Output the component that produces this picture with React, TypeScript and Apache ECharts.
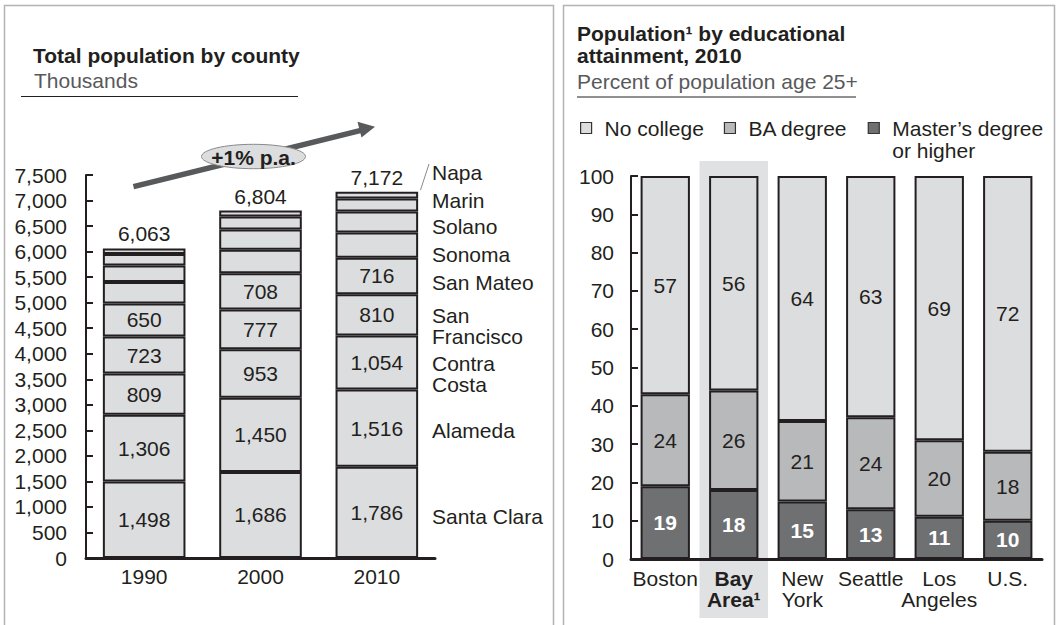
import React, { useEffect, useRef } from 'react';
import * as echarts from 'echarts';

// ---- Total population by county (thousands) ----
const years = ['1990', '2000', '2010'];
const counties = ['Santa Clara', 'Alameda', 'Contra Costa', 'San Francisco', 'San Mateo', 'Sonoma', 'Solano', 'Marin', 'Napa'];
const santaClara = [1498, 1686, 1786];
const alameda = [1306, 1450, 1516];
const contraCosta = [809, 953, 1054];
const sanFrancisco = [723, 777, 810];
const sanMateo = [650, 708, 716];
const sonoma = [419, 463, 492];
const solano = [325, 394, 409];
const marin = [223, 255, 256];
const napa = [110, 118, 133];
const countyValues = [santaClara, alameda, contraCosta, sanFrancisco, sanMateo, sonoma, solano, marin, napa];
const totals = [6063, 6804, 7172];
const growthNote = '+1% p.a.';

// ---- Population by educational attainment, 2010 (percent of population age 25+) ----
const regions = ['Boston', 'Bay\nArea¹', 'New\nYork', 'Seattle', 'Los\nAngeles', 'U.S.'];
const masters = [19, 18, 15, 13, 11, 10];
const baDegree = [24, 26, 21, 24, 20, 18];
const noCollege = [57, 56, 64, 63, 69, 72];
const MASTERS = 'Master’s degree\nor higher';
const BA = 'BA degree';
const NOCOL = 'No college';

const FONT = '"Liberation Sans", Arial, Helvetica, sans-serif';
const INK = '#231f20';
const LIGHT = '#dcdddf';
const MID = '#b8b9bb';
const DARK = '#6f7072';

const LG = { left: 86, top: 175, width: 349, height: 383 };
const RG = { left: 631, top: 176, width: 411, height: 383 };

// side labels next to the 2010 bar (first-line centre y)
const sideLabelText = ['Santa Clara', 'Alameda', 'Contra\nCosta', 'San\nFrancisco', 'San Mateo', 'Sonoma', 'Solano', 'Marin', 'Napa'];
const sideLabelY = [516, 430, 363, 315, 282, 254, 226, 200, 172];

const fmt = (v: number) => v.toLocaleString('en-US');

function txt(x: number, y: number, text: string, extra: any = {}, styleExtra: any = {}) {
  return {
    type: 'text',
    x,
    y,
    silent: true,
    ...extra,
    style: {
      text,
      fontFamily: FONT,
      fontSize: 21,
      fill: INK,
      verticalAlign: 'middle',
      ...styleExtra,
    },
  };
}

function buildOption(): any {
  const leftSeries = countyValues.map((vals, i) => {
    let label: any = { show: false };
    if (i < 5) {
      label = {
        show: true,
        position: 'inside',
        fontFamily: FONT,
        fontSize: 21,
        color: INK,
        formatter: (p: any) => fmt(p.value),
      };
    } else if (i === countyValues.length - 1) {
      label = {
        show: true,
        position: 'top',
        distance: 4,
        fontFamily: FONT,
        fontSize: 21,
        color: INK,
        formatter: (p: any) => fmt(totals[p.dataIndex]),
      };
    }
    return {
      name: counties[i],
      type: 'bar',
      stack: 'county',
      xAxisIndex: 0,
      yAxisIndex: 0,
      barWidth: '71%',
      data: vals,
      itemStyle: { color: LIGHT, borderColor: INK, borderWidth: 2 },
      label,
    };
  });

  const eduSeries = [
    { name: MASTERS, data: masters, color: DARK, label: { color: '#ffffff', fontWeight: 'bold' } },
    { name: BA, data: baDegree, color: MID, label: { color: INK } },
    { name: NOCOL, data: noCollege, color: LIGHT, label: { color: INK } },
  ].map((s) => ({
    name: s.name,
    type: 'bar',
    stack: 'edu',
    xAxisIndex: 1,
    yAxisIndex: 1,
    barWidth: '72%',
    data: s.data,
    itemStyle: { color: s.color, borderColor: INK, borderWidth: 2 },
    label: { show: true, position: 'inside', fontFamily: FONT, fontSize: 21, ...s.label },
  }));

  const axisLabelBase = { fontFamily: FONT, fontSize: 21, color: INK };

  const band = RG.width / regions.length;

  const graphic: any[] = [
    // panel frames
    { type: 'rect', silent: true, shape: { x: 4.5, y: 5.5, width: 549, height: 640 }, style: { fill: 'none', stroke: '#b3b3b3', lineWidth: 1.5 } },
    { type: 'rect', silent: true, shape: { x: 563.5, y: 5.5, width: 491, height: 640 }, style: { fill: 'none', stroke: '#b3b3b3', lineWidth: 1.5 } },
    // Bay Area highlight band
    { type: 'rect', silent: true, z: -1, shape: { x: RG.left + band, y: 161, width: band, height: 457 }, style: { fill: '#e0e1e3' } },

    // left panel heading
    txt(33, 55, 'Total population by county', {}, { fontWeight: 'bold' }),
    txt(34, 80, 'Thousands', {}, { fill: '#58595b' }),
    { type: 'line', silent: true, shape: { x1: 21, y1: 96.5, x2: 298, y2: 96.5 }, style: { stroke: INK, lineWidth: 1 } },

    // right panel heading
    txt(577, 33, 'Population¹ by educational', {}, { fontWeight: 'bold' }),
    txt(577, 55, 'attainment, 2010', {}, { fontWeight: 'bold' }),
    txt(577, 81, 'Percent of population age 25+', {}, { fill: '#58595b' }),
    { type: 'line', silent: true, shape: { x1: 577, y1: 97, x2: 856, y2: 97 }, style: { stroke: INK, lineWidth: 1 } },

    // growth arrow
    { type: 'line', silent: true, z: 5, shape: { x1: 133.5, y1: 186.7, x2: 361, y2: 130.3 }, style: { stroke: '#58595b', lineWidth: 5.5 } },
    { type: 'polygon', silent: true, z: 5, shape: { points: [[375, 126.7], [361.5, 137.5], [357.5, 121.8]] }, style: { fill: '#58595b' } },
    { type: 'ellipse', silent: true, z: 10, shape: { cx: 253.5, cy: 156.5, rx: 52, ry: 12.2 }, style: { fill: LIGHT, stroke: '#8a8a8a', lineWidth: 1 } },
    txt(253.5, 157.5, growthNote, { z: 11 }, { fontWeight: 'bold', align: 'center' }),

    // leader line to Napa
    { type: 'line', silent: true, shape: { x1: 420.5, y1: 190, x2: 429, y2: 164 }, style: { stroke: '#8a8a8a', lineWidth: 1 } },
  ];

  sideLabelText.forEach((t, i) => {
    graphic.push(txt(432, sideLabelY[i] - 10.5, t, {}, { verticalAlign: 'top', lineHeight: 21 }));
  });

  return {
    animation: false,
    backgroundColor: '#ffffff',
    textStyle: { fontFamily: FONT },
    legend: {
      left: 580,
      top: 95,
      padding: 0,
      icon: 'rect',
      itemWidth: 11,
      itemHeight: 11,
      itemGap: 20,
      selectedMode: false,
      itemStyle: { borderColor: '#333333', borderWidth: 1.2 },
      textStyle: { fontFamily: FONT, fontSize: 21, color: INK, lineHeight: 22, padding: [0, 0, 0, 8] },
      // a leading blank line keeps the first line of the two-line entry level with its swatch
      formatter: (name: string) => (name === MASTERS ? '\n' + name : name),
      data: [{ name: NOCOL }, { name: BA }, { name: MASTERS }],
    },
    grid: [
      { ...LG, containLabel: false },
      { ...RG, containLabel: false },
    ],
    xAxis: [
      {
        type: 'category',
        gridIndex: 0,
        data: years,
        axisLine: { lineStyle: { color: INK, width: 3 } },
        axisTick: { show: false },
        axisLabel: { ...axisLabelBase, margin: 8, interval: 0 },
      },
      {
        type: 'category',
        gridIndex: 1,
        data: regions.map((r, i) => (i === 1 ? { value: r, textStyle: { fontWeight: 'bold' } } : r)),
        axisLine: { lineStyle: { color: INK, width: 3 } },
        axisTick: { show: false },
        axisLabel: { ...axisLabelBase, margin: 9, interval: 0, lineHeight: 21 },
      },
    ],
    yAxis: [
      {
        type: 'value',
        gridIndex: 0,
        min: 0,
        max: 7500,
        interval: 500,
        axisLine: { show: true, lineStyle: { color: INK, width: 2 } },
        axisTick: { show: true, inside: true, length: 7, lineStyle: { color: INK, width: 2 } },
        splitLine: { show: false },
        axisLabel: { ...axisLabelBase, margin: 19, formatter: (v: number) => fmt(v) },
      },
      {
        type: 'value',
        gridIndex: 1,
        min: 0,
        max: 100,
        interval: 10,
        axisLine: { show: true, lineStyle: { color: INK, width: 2 } },
        axisTick: { show: true, inside: true, length: 7, lineStyle: { color: INK, width: 2 } },
        splitLine: { show: false },
        axisLabel: { ...axisLabelBase, margin: 17 },
      },
    ],
    series: [...leftSeries, ...eduSeries],
    graphic,
  };
}

export default function App() {
  const ref = useRef<HTMLDivElement>(null);

  useEffect(() => {
    if (!ref.current) return;
    const chart = echarts.init(ref.current, undefined, { renderer: 'svg' });
    chart.setOption(buildOption());
    return () => {
      chart.dispose();
    };
  }, []);

  return (
    <div
      ref={ref}
      style={{ position: 'absolute', left: 0, top: 0, width: 1057, height: 625, background: '#ffffff' }}
    />
  );
}
